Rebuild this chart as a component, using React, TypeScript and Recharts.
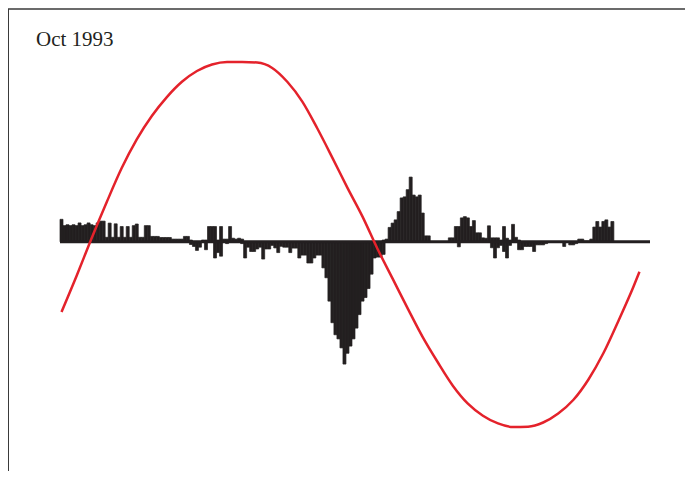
import React from 'react';
import { ComposedChart, Bar, Line, XAxis, YAxis, ReferenceLine } from 'recharts';

// Bin indices (categories along the horizontal axis)
const binCount = 196;
const bins: number[] = Array.from({ length: binCount }, (_, i) => i);

// Positive bar heights per bin
const aboveValues: number[] = [
  12.5, 9, 9.5, 9, 9.5, 9, 10.5, 9, 9.5, 10.5,
  9.5, 9, 10.5, 11.5, 11.5, 2.5, 10.4, 2.5, 10, 2.5,
  8.5, 2.5, 8.5, 2.5, 9, 9.9, 2.5, 2.5, 9, 9,
  3, 3, 3, 2.4, 2.4, 2.4, 2.4, 1.5, 1.5, 1.5,
  1.5, 3, 3, 1, 0, 0, 0, 1, 1, 8.5,
  8.5, 8.5, 1, 8.5, 1.5, 1.5, 8.5, 2, 1.5, 2,
  1.5, 0, 0, 0, 0, 0, 0, 0, 0, 0,
  0, 0, 0, 0, 0, 0, 0, 0, 0, 0,
  0, 0, 0, 0, 0, 0, 0, 0, 0, 0,
  0, 0, 0, 0, 0, 0, 0, 0, 0, 0,
  0, 0, 0, 0, 0, 0, 0, 1, 1.5, 8,
  10.4, 12.2, 16.8, 24.4, 25, 29, 36, 26, 25, 26,
  16, 3.3, 3.3, 0, 0, 0, 0, 0, 0, 2.2,
  2.2, 8.5, 8.5, 13.3, 14, 13.3, 8.5, 11.8, 5, 5,
  2.2, 2, 8.9, 2.2, 2.2, 2.2, 1, 8.5, 2, 1,
  9.7, 2.5, 1, 0, 0, 0, 0, 0, 0, 0,
  0, 0, 0, 0, 0, 0, 0, 0, 0, 0,
  0, 0, 1.5, 1.5, 0.5, 0.5, 1.5, 8.2, 11.3, 8.2,
  11.3, 12.2, 8.2, 11.3, 0, 0, 0, 0, 0, 0,
  0, 0, 0, 0, 0, 0,
];

// Negative bar heights per bin
const belowValues: number[] = [
  0, 0, 0, 0, 0, 0, 0, 0, 0, 0,
  0, 0, 0, 0, 0, 0, 0, 0, 0, 0,
  0, 0, 0, 0, 0, 0, 0, 0, 0, 0,
  0, 0, 0, 0, 0, 0, 0, 0, 0, 0,
  0, 0, 0, -1.5, -2.6, -4.8, -3, 0, -4.4, 0,
  0, -9, -6, -8, 0, -1, 0, 0, 0, 0,
  -1, -9, -3, -5.4, -5.4, -4, -3, -9.6, -4, -4,
  -2, -3.4, -6, -2.5, -3, -3, -6, -3.5, -3.5, -9,
  -7.4, -7.4, -11.8, -11.8, -9, -7.4, -7.4, -14.5, -20, -33,
  -45, -51.7, -54, -59, -68, -62, -58, -54, -48, -40.5,
  -33, -31, -26, -18, -9, -8.5, -8.5, -7, 0, 0,
  0, 0, 0, 0, 0, 0, 0, 0, 0, 0,
  0, 0, 0, 0, 0, 0, 0, 0, 0, 0,
  0, 0, -2.8, 0, 0, 0, 0, 0, 0, 0,
  0, 0, 0, -3.3, -9, -3.3, -2, -5.4, -9, -2,
  0, 0, -4.4, -4.4, -2.6, -2.6, -2.6, -5.4, -1.7, -1.7,
  -1.7, -1, 0, 0, 0, 0, 0, -2.6, 0, -1.7,
  -1.7, -1, 0, 0, 0, 0, 0, 0, 0, 0,
  0, 0, 0, 0, 0, 0, 0, 0, 0, 0,
  0, 0, 0, 0, 0, 0,
];

// Red curve: sampled bins and values
const curveBins: number[] = [
  0, 5, 10, 15, 20, 25, 30, 35, 40, 45,
  50, 55, 60, 65, 70, 75, 80, 85, 90, 95,
  100, 105, 110, 115, 120, 125, 130, 135, 140, 145,
  150, 155, 160, 165, 170, 175, 180, 185, 190, 192,
];
const curveValues: number[] = [
  -39, -19, 2, 22, 41, 57, 70, 80.5, 89, 95,
  98.6, 100, 100, 99.7, 96.7, 89, 78, 63, 46.7, 30,
  14, -4, -20.5, -37, -53, -67, -80, -90, -96.7, -101,
  -103, -102.8, -100.5, -95.5, -88, -76.7, -62, -44, -25, -16.7,
];

const label = 'Oct 1993';

const data = bins.map((b, i) => {
  const ci = curveBins.indexOf(b);
  return {
    bin: b,
    above: aboveValues[i] ?? 0,
    below: belowValues[i] ?? 0,
    curve: ci >= 0 ? curveValues[ci] : null,
  };
});

const INK = '#231f20';
const RED = '#e4222b';

export default function App() {
  return (
    <div style={{ position: 'relative', width: 685, height: 471, marginBottom: -8 }}>
      <ComposedChart
        width={685}
        height={471}
        data={data}
        margin={{ top: 54, right: 43, bottom: 52, left: 52 }}
        barCategoryGap={0}
        barGap={0}
        stackOffset="sign"
      >
        <XAxis dataKey="bin" type="category" hide />
        <YAxis type="number" domain={[-103, 100]} hide />
        <Bar dataKey="above" stackId="s" fill={INK} stroke={INK} strokeWidth={0.7} isAnimationActive={false} />
        <Bar dataKey="below" stackId="s" fill={INK} stroke={INK} strokeWidth={0.7} isAnimationActive={false} />
        <ReferenceLine y={0} stroke={INK} strokeWidth={3} />
        <Line
          dataKey="curve"
          type="monotone"
          stroke={RED}
          strokeWidth={2.5}
          dot={false}
          activeDot={false}
          connectNulls
          isAnimationActive={false}
        />
      </ComposedChart>
      <svg
        width={685}
        height={471}
        style={{ position: 'absolute', left: 0, top: 0, pointerEvents: 'none', overflow: 'visible' }}
      >
        <line x1={0} y1={1} x2={685} y2={1} stroke="#3a3a3a" strokeWidth={1.5} />
        <line x1={0.25} y1={1} x2={0.25} y2={480} stroke="#3a3a3a" strokeWidth={1.5} />
        <text x={28} y={38} fontFamily="'Liberation Serif', 'Times New Roman', serif" fontSize={21} fill={INK}>
          {label}
        </text>
      </svg>
    </div>
  );
}
